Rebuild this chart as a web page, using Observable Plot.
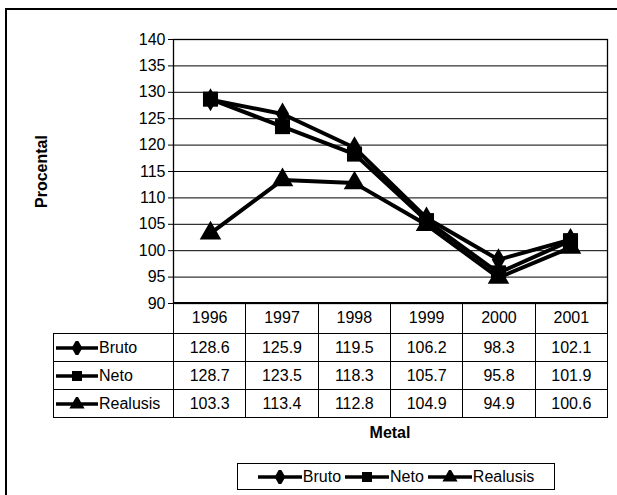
<!DOCTYPE html>
<html><head><meta charset="utf-8">
<script src="https://cdn.jsdelivr.net/npm/d3@7"></script>
<script src="https://cdn.jsdelivr.net/npm/@observablehq/plot@0.6"></script>
<style>
body{margin:0;background:#fff;font-family:"Liberation Sans",Arial,sans-serif;color:#000;}
#fig{position:relative;width:617px;height:495px;overflow:hidden;background:#fff;}
#frame{position:absolute;left:5px;top:8px;width:700px;height:600px;border-left:2px solid #000;border-top:2px solid #000;}
#chart{position:absolute;left:0;top:0;}
#chart svg{font-family:"Liberation Sans",Arial,sans-serif;}
g[aria-label="y-axis label"] text{font-weight:bold;font-size:16px;}
#tbl{position:absolute;left:53px;top:302px;border-collapse:collapse;table-layout:fixed;font-size:16px;}
#tbl td{border:1px solid #000;padding:0;text-align:center;box-sizing:border-box;}
#tbl td.blank{border:none;border-bottom:1px solid #000;}
#tbl td.lab{text-align:left;padding-left:2px;white-space:nowrap;}
#tbl svg{vertical-align:middle;margin-right:1px;}
#xlabel{position:absolute;left:173px;width:434px;top:424px;text-align:center;font-weight:bold;font-size:16px;}
#legend{position:absolute;left:237px;top:463px;width:316px;height:25px;border:1px solid #000;display:flex;align-items:center;justify-content:center;font-size:16px;white-space:nowrap;}
#legend span.item{display:inline-flex;align-items:center;margin:0 2px;}
#legend svg{margin-right:1px;}
</style></head>
<body>
<div id="fig">
  <div id="frame"></div>
  <div id="chart"></div>
  <table id="tbl"></table>
  <div id="xlabel">Metal</div>
  <div id="legend"></div>
</div>
<script>
const years = ["1996","1997","1998","1999","2000","2001"];
const seriesNames = ["Bruto","Neto","Realusis"];
const bruto = [128.6,125.9,119.5,106.2,98.3,102.1];
const neto = [128.7,123.5,118.3,105.7,95.8,101.9];
const realusis = [103.3,113.4,112.8,104.9,94.9,100.6];
const yTicks = [90,95,100,105,110,115,120,125,130,135,140];
const d3Symbols = {Bruto:d3.symbolDiamond, Neto:d3.symbolSquare, Realusis:d3.symbolTriangle};
const values = {Bruto:bruto, Neto:neto, Realusis:realusis};

const data = seriesNames.flatMap(s => years.map((y,i) => ({series:s, year:y, value:values[s][i]})));

const chart = Plot.plot({
  width: 617,
  height: 322,
  marginTop: 39,
  marginBottom: 19,
  marginLeft: 173,
  marginRight: 10,
  style: {fontSize: "16px", background: "transparent"},
  x: {type: "point", domain: years, padding: 0.5, axis: null},
  y: {domain: [90,140], ticks: yTicks, tickSize: 5, tickPadding: 3, label: "Procental", labelAnchor: "center", labelOffset: 138, labelArrow: "none"},
  marks: [
    Plot.ruleY(yTicks, {stroke: "#000", strokeWidth: 1}),
    Plot.frame({stroke: "#000", strokeWidth: 1.3}),
    Plot.line(data, {x: "year", y: "value", z: "series", stroke: "#000", strokeWidth: 4, strokeLinejoin: "round"}),
    Plot.dot(data.filter(d => d.series === "Bruto"), {x: "year", y: "value", symbol: "diamond", r: 7, fill: "#000", stroke: "none"}),
    Plot.dot(data.filter(d => d.series === "Neto"), {x: "year", y: "value", symbol: "square", r: 8.5, fill: "#000", stroke: "none"}),
    Plot.dot(data.filter(d => d.series === "Realusis"), {x: "year", y: "value", symbol: "triangle", r: 8, fill: "#000", stroke: "none"})
  ]
});
document.getElementById("chart").appendChild(chart);

function glyph(name, w, size) {
  const svg = d3.create("svg").attr("width", w).attr("height", 14);
  svg.append("line").attr("x1", 0).attr("x2", w).attr("y1", 7).attr("y2", 7).attr("stroke", "#000").attr("stroke-width", 3.5);
  svg.append("path").attr("transform", `translate(${w/2},7)`).attr("d", d3.symbol(d3Symbols[name], size)()).attr("fill", "#000");
  return svg.node();
}

const tbl = d3.select("#tbl");
const colW = 434/6;
const cg = tbl.append("colgroup");
cg.append("col").style("width", "120px");
years.forEach(() => cg.append("col").style("width", colW + "px"));
const hdr = tbl.append("tr");
hdr.append("td").attr("class", "blank").style("height", "31px");
years.forEach(y => hdr.append("td").style("height","31px").text(y));
seriesNames.forEach(s => {
  const tr = tbl.append("tr");
  const lab = tr.append("td").attr("class", "lab").style("height","28px");
  lab.node().appendChild(glyph(s, 42, 100));
  lab.append("span").text(s);
  values[s].forEach(v => tr.append("td").style("height","28px").text(v.toFixed(1)));
});

const leg = d3.select("#legend");
seriesNames.forEach(s => {
  const it = leg.append("span").attr("class", "item");
  it.node().appendChild(glyph(s, 44, 100));
  it.append("span").text(s);
});
</script>
</body></html>
